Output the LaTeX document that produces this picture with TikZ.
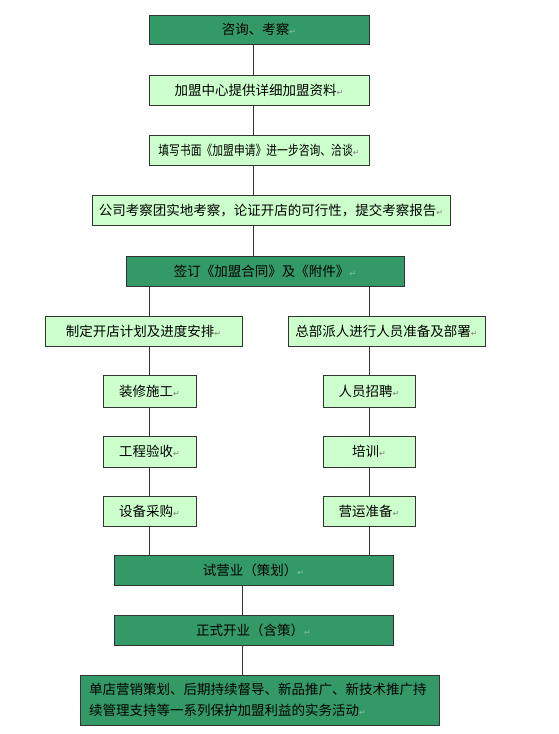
\documentclass[tikz,border=0pt]{standalone}
\usepackage{fontspec}
\setmainfont{Noto Sans CJK SC}
\newfontfamily\retfont{DejaVu Sans}
\definecolor{darkbox}{HTML}{339966}
\definecolor{lightbox}{HTML}{CCFFCC}
\definecolor{edge}{HTML}{333333}
\newcommand{\rtl}{{\retfont\fontsize{8}{8}\selectfont\textcolor{gray}{↵}}}
\newcommand{\rtd}{{\retfont\fontsize{8}{8}\selectfont\textcolor{darkbox!60!white}{↵}}}
\begin{document}
\begin{tikzpicture}[x=1pt,y=-1pt,
  box/.style={draw=edge, line width=1pt, inner sep=0pt, font=\fontsize{13.5}{21}\selectfont, text=black},
  darkb/.style={box, fill=darkbox},
  lightb/.style={box, fill=lightbox},
  conn/.style={draw=edge, line width=1pt}]
\useasboundingbox (0,0) rectangle (558,734);
\fill[white] (0,0) rectangle (558,734);
\coordinate (sp) at (253,0);
\coordinate (lb) at (149,0);
\coordinate (rb) at (369,0);
\coordinate (cb) at (242,0);
\node[darkb, minimum width=220pt, minimum height=29pt] (b1) at (259,29.5) {咨询、考察\rtd};
\node[lightb, minimum width=220pt, minimum height=30pt] (b2) at (259,90) {加盟中心提供详细加盟资料\rtl};
\node[lightb, minimum width=220pt, minimum height=30pt] (b3) at (259,150) {\scalebox{0.8}[1]{填写书面《加盟申请》进一步咨询、洽谈}\rtl};
\node[lightb, minimum width=358pt, minimum height=30pt] (b4) at (271,210) {公司考察团实地考察，论证开店的可行性，提交考察报告\rtl};
\node[darkb, minimum width=278pt, minimum height=30pt] (b5) at (265,271) {签订《加盟合同》及《附件》\rtd};
\node[lightb, minimum width=197pt, minimum height=30pt] (l1) at (143.5,331) {制定开店计划及进度安排\rtl};
\node[lightb, minimum width=197pt, minimum height=30pt] (r1) at (386.5,331) {总部派人进行人员准备及部署\rtl};
\node[lightb, minimum width=93pt, minimum height=32pt] (l2) at (149.5,391) {装修施工\rtl};
\node[lightb, minimum width=93pt, minimum height=31pt] (l3) at (149.5,451.5) {工程验收\rtl};
\node[lightb, minimum width=93pt, minimum height=30pt] (l4) at (149.5,511) {设备采购\rtl};
\node[lightb, minimum width=92pt, minimum height=32pt] (r2) at (369,391) {人员招聘\rtl};
\node[lightb, minimum width=92pt, minimum height=31pt] (r3) at (369,451.5) {培训\rtl};
\node[lightb, minimum width=92pt, minimum height=30pt] (r4) at (369,511) {营运准备\rtl};
\node[darkb, minimum width=279pt, minimum height=30pt] (b6) at (253.5,570) {试营业（策划）\rtd};
\node[darkb, minimum width=279pt, minimum height=30pt] (b7) at (253.5,630) {正式开业（含策）\rtd};
\node[darkb, minimum width=359pt, minimum height=50pt, align=left, text width=341pt, inner xsep=9pt] (b8) at (259.5,700) {单店营销策划、后期持续督导、新品推广、新技术推广持\\续管理支持等一系列保护加盟利益的实务活动\rtd};
\draw[conn] (b1.south -| sp) -- (b2.north -| sp);
\draw[conn] (b2.south -| sp) -- (b3.north -| sp);
\draw[conn] (b3.south -| sp) -- (b4.north -| sp);
\draw[conn] (b4.south -| sp) -- (b5.north -| sp);
\draw[conn] (b5.south -| lb) -- (l1.north -| lb);
\draw[conn] (b5.south -| rb) -- (r1.north -| rb);
\draw[conn] (l1.south -| lb) -- (l2.north -| lb);
\draw[conn] (l2.south -| lb) -- (l3.north -| lb);
\draw[conn] (l3.south -| lb) -- (l4.north -| lb);
\draw[conn] (l4.south -| lb) -- (b6.north -| lb);
\draw[conn] (r1.south -| rb) -- (r2.north -| rb);
\draw[conn] (r2.south -| rb) -- (r3.north -| rb);
\draw[conn] (r3.south -| rb) -- (r4.north -| rb);
\draw[conn] (r4.south -| rb) -- (b6.north -| rb);
\draw[conn] (b6.south -| cb) -- (b7.north -| cb);
\draw[conn] (b7.south -| cb) -- (b8.north -| cb);
\end{tikzpicture}
\end{document}
